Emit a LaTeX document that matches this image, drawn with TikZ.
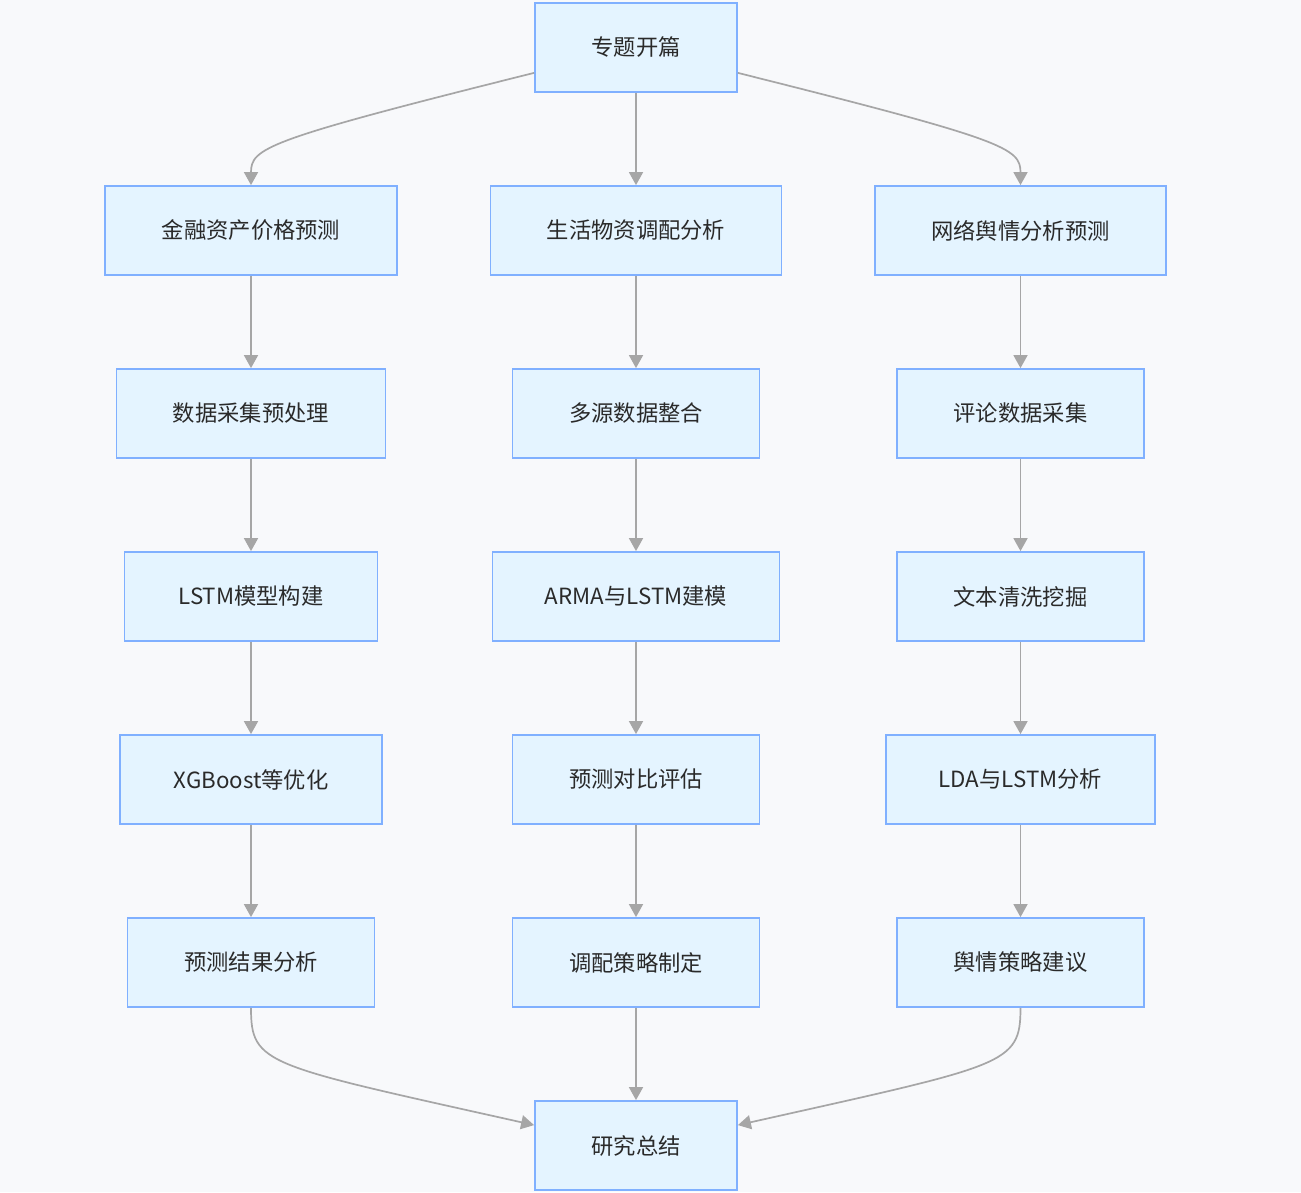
\documentclass[tikz,border=0pt]{standalone}
\usepackage{fontspec}
\setmainfont{Noto Sans CJK SC}
\usetikzlibrary{arrows.meta}
\definecolor{bg}{HTML}{F8F9FB}
\definecolor{boxfill}{HTML}{E4F4FF}
\definecolor{boxline}{HTML}{80B0FF}
\definecolor{txt}{HTML}{2A2A2A}
\definecolor{edge}{HTML}{A6A6A6}
\tikzset{
  box/.style={draw=boxline, fill=boxfill, line width=1.8pt, inner sep=0pt,
    minimum height=89pt, text=txt, font=\fontsize{22.3}{26}\selectfont},
  conn/.style={draw=edge, line width=1.7pt, -{Triangle[length=13pt,width=14pt,fill=edge]}}
}
\begin{document}
\begin{tikzpicture}[x=1pt,y=-1pt]
\fill[bg] (0,0) rectangle (1301,1192);
\useasboundingbox (0,0) rectangle (1301,1192);
% top
\node[box, minimum width=202pt] (top) at (636,47.5) {专题开篇};
% row 2
\node[box, minimum width=292pt] (a1) at (251,230.5) {金融资产价格预测};
\node[box, minimum width=291pt] (b1) at (636,230.5) {生活物资调配分析};
\node[box, minimum width=291pt] (c1) at (1020.5,230.5) {网络舆情分析预测};
% row 3
\node[box, minimum width=269pt] (a2) at (251,413.5) {数据采集预处理};
\node[box, minimum width=247pt] (b2) at (636,413.5) {多源数据整合};
\node[box, minimum width=247pt] (c2) at (1020.5,413.5) {评论数据采集};
% row 4
\node[box, minimum width=253pt] (a3) at (251,596.5) {LSTM模型构建};
\node[box, minimum width=287pt] (b3) at (636,596.5) {ARMA与LSTM建模};
\node[box, minimum width=247pt] (c3) at (1020.5,596.5) {文本清洗挖掘};
% row 5
\node[box, minimum width=262pt] (a4) at (251,779.5) {XGBoost等优化};
\node[box, minimum width=247pt] (b4) at (636,779.5) {预测对比评估};
\node[box, minimum width=269pt] (c4) at (1020.5,779.5) {LDA与LSTM分析};
% row 6
\node[box, minimum width=247pt] (a5) at (251,962.5) {预测结果分析};
\node[box, minimum width=247pt] (b5) at (636,962.5) {调配策略制定};
\node[box, minimum width=247pt] (c5) at (1020.5,962.5) {舆情策略建议};
% bottom
\node[box, minimum width=202pt] (bot) at (636,1145.5) {研究总结};
% edges from top
\draw[conn] (top.south west) ++(0,-20) .. controls (265,140) and (251,148) .. (a1.north);
\draw[conn] (top.south) -- (b1.north);
\draw[conn] (top.south east) ++(0,-20) .. controls (1006,140) and (1020.5,148) .. (c1.north);
% columns
\foreach \c in {a,b,c}{
  \draw[conn] (\c1) -- (\c2);
  \draw[conn] (\c2) -- (\c3);
  \draw[conn] (\c3) -- (\c4);
  \draw[conn] (\c4) -- (\c5);
}
% to bottom
\draw[conn] (a5.south) .. controls (251,1065) and (265,1065) .. ([yshift=-25pt]bot.north west);
\draw[conn] (b5.south) -- (bot.north);
\draw[conn] (c5.south) .. controls (1020.5,1065) and (1006,1065) .. ([yshift=-25pt]bot.north east);
\end{tikzpicture}
\end{document}
